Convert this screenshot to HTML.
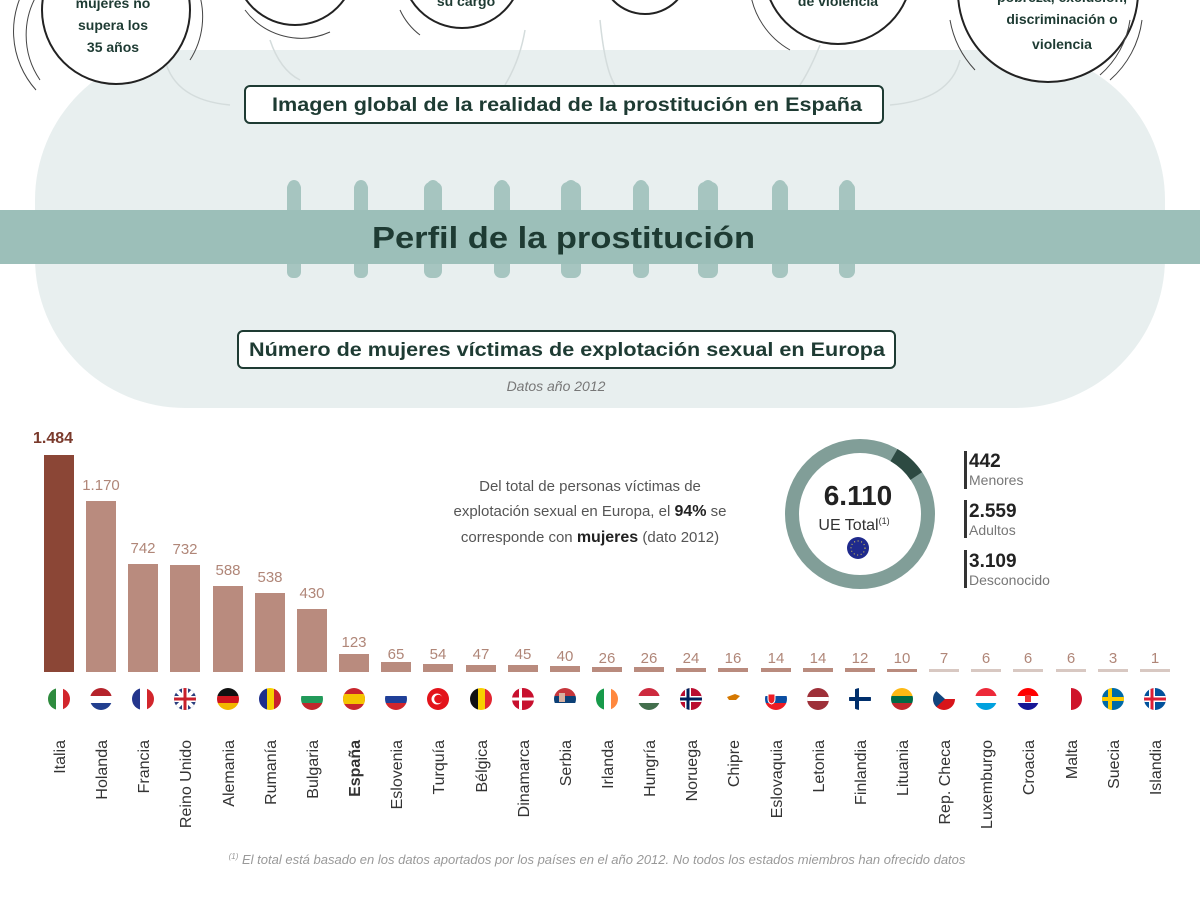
<!DOCTYPE html>
<html><head><meta charset="utf-8">
<style>
html,body{margin:0;padding:0;background:#fff;}
svg{display:block;font-family:"Liberation Sans",Arial,sans-serif;}
</style></head>
<body>
<svg width="1200" height="900" viewBox="0 0 1200 900" xmlns="http://www.w3.org/2000/svg">
<defs>
<clipPath id="fc"><circle cx="0" cy="0" r="11"/></clipPath>
</defs>
<rect x="35" y="50" width="1130" height="358" rx="150" fill="#e8efef"/>
<g fill="none" stroke="#d4dcdc" stroke-width="1.5">
<path d="M165 60 Q175 100 230 105"/>
<path d="M270 40 Q280 70 300 80"/>
<path d="M525 30 Q520 60 505 85"/>
<path d="M600 20 Q605 70 615 85"/>
<path d="M820 45 Q810 70 800 85"/>
<path d="M960 60 Q950 100 890 105"/>
</g>
<g fill="#fff" stroke="#222" stroke-width="2">
<circle cx="116" cy="10" r="74"/>
<circle cx="295" cy="-35" r="60"/>
<circle cx="462" cy="-32" r="60"/>
<circle cx="645" cy="-30" r="44"/>
<circle cx="838" cy="-30" r="74"/>
<circle cx="1048" cy="-8" r="90"/>
</g>
<g fill="none" stroke="#444" stroke-width="1">
<path d="M40 -10 A80 80 0 0 0 40 80"/>
<path d="M30 -20 A88 88 0 0 0 36 90"/>
<path d="M198 -10 A80 80 0 0 1 190 60"/>
<path d="M245 10 A70 70 0 0 0 330 32"/>
<path d="M400 10 A66 66 0 0 0 420 35"/>
<path d="M750 -10 A80 80 0 0 0 790 50"/>
<path d="M950 20 A98 98 0 0 0 975 70"/>
<path d="M1142 20 A96 96 0 0 1 1110 80"/>
<path d="M1130 20 A90 90 0 0 1 1100 75"/>
</g>
<g font-size="14" font-weight="bold" fill="#1e3b33" text-anchor="middle">
<text x="113" y="8">mujeres no</text>
<text x="113" y="30">supera los</text>
<text x="113" y="52">35 años</text>
<text x="466" y="6">su cargo</text>
<text x="838" y="6">de violencia</text>
<text x="1062" y="2">pobreza, exclusión,</text>
<text x="1062" y="24">discriminación o</text>
<text x="1062" y="49">violencia</text>
</g>
<rect x="245" y="86" width="638" height="37" rx="5" fill="#fff" stroke="#1e3b33" stroke-width="2"/>
<text x="272" y="111" font-size="19" font-weight="bold" fill="#1e3b33" textLength="590" lengthAdjust="spacingAndGlyphs">Imagen global de la realidad de la prostitución en España</text>
<g fill="#a6c5c0">
<rect x="287" y="182" width="14" height="96" rx="6"/><circle cx="294" cy="186" r="6"/>
<rect x="354" y="182" width="14" height="96" rx="6"/><circle cx="361" cy="186" r="6"/>
<rect x="424" y="182" width="18" height="96" rx="7"/><circle cx="433" cy="186" r="6"/>
<rect x="494" y="182" width="16" height="96" rx="7"/><circle cx="502" cy="186" r="6"/>
<rect x="561" y="182" width="20" height="96" rx="7"/><circle cx="571" cy="186" r="6"/>
<rect x="633" y="182" width="16" height="96" rx="7"/><circle cx="641" cy="186" r="6"/>
<rect x="698" y="182" width="20" height="96" rx="7"/><circle cx="708" cy="186" r="6"/>
<rect x="772" y="182" width="16" height="96" rx="7"/><circle cx="780" cy="186" r="6"/>
<rect x="839" y="182" width="16" height="96" rx="7"/><circle cx="847" cy="186" r="6"/>
</g>
<rect x="0" y="210" width="1200" height="54" fill="#9cbfb9"/>
<text x="372" y="248" font-size="31" font-weight="bold" fill="#1e3b33" textLength="383" lengthAdjust="spacingAndGlyphs">Perfil de la prostitución</text>
<rect x="238" y="331" width="657" height="37" rx="5" fill="#fff" stroke="#1e3b33" stroke-width="2"/>
<text x="249" y="356" font-size="19" font-weight="bold" fill="#1e3b33" textLength="636" lengthAdjust="spacingAndGlyphs">Número de mujeres víctimas de explotación sexual en Europa</text>
<text x="556" y="391" font-size="14" font-style="italic" fill="#777" text-anchor="middle">Datos año 2012</text>

<g font-size="15" fill="#555" text-anchor="middle">
<text x="590" y="491">Del total de personas víctimas de</text>
<text x="590" y="516">explotación sexual en Europa, el <tspan font-weight="bold" fill="#222" font-size="16">94%</tspan> se</text>
<text x="590" y="542">corresponde con <tspan font-weight="bold" fill="#222" font-size="16">mujeres</tspan> (dato 2012)</text>
</g>
<circle cx="860" cy="514" r="68" fill="none" stroke="#819e98" stroke-width="14"/>
<path d="M 894 455.1 A68 68 0 0 1 916.3 476" fill="none" stroke="#2d4a42" stroke-width="14"/>
<text x="858" y="505" font-size="28" font-weight="bold" fill="#222" text-anchor="middle">6.110</text>
<text x="854" y="530" font-size="16" fill="#333" text-anchor="middle">UE Total<tspan font-size="9" dy="-6">(1)</tspan></text>
<circle cx="858" cy="548" r="11" fill="#1f2a8c"/>
<circle cx="858" cy="548" r="7" fill="none" stroke="#e8d44d" stroke-width="1" stroke-dasharray="1 2.6"/>
<g fill="#333">
<rect x="964" y="451" width="3" height="38"/>
<rect x="964" y="500" width="3" height="38"/>
<rect x="964" y="550" width="3" height="38"/>
</g>
<g font-weight="bold" font-size="19" fill="#222">
<text x="969" y="467">442</text>
<text x="969" y="517">2.559</text>
<text x="969" y="567">3.109</text>
</g>
<g font-size="14" fill="#777">
<text x="969" y="485">Menores</text>
<text x="969" y="535">Adultos</text>
<text x="969" y="585">Desconocido</text>
</g>

<g fill="#b98b7e">
<rect x="44" y="455" width="30" height="217" fill="#8b4636"/>
<rect x="86" y="501" width="30" height="171"/>
<rect x="128" y="564" width="30" height="108"/>
<rect x="170" y="565" width="30" height="107"/>
<rect x="213" y="586" width="30" height="86"/>
<rect x="255" y="593" width="30" height="79"/>
<rect x="297" y="609" width="30" height="63"/>
<rect x="339" y="654" width="30" height="18"/>
<rect x="381" y="662" width="30" height="10"/>
<rect x="423" y="664" width="30" height="8"/>
<rect x="466" y="665" width="30" height="7"/>
<rect x="508" y="665" width="30" height="7"/>
<rect x="550" y="666" width="30" height="6"/>
<rect x="592" y="667" width="30" height="5"/>
<rect x="634" y="667" width="30" height="5"/>
<rect x="676" y="668" width="30" height="4"/>
<rect x="718" y="668" width="30" height="4"/>
<rect x="761" y="668" width="30" height="4"/>
<rect x="803" y="668" width="30" height="4"/>
<rect x="845" y="668" width="30" height="4"/>
<rect x="887" y="669" width="30" height="3"/>
<rect x="929" y="669" width="30" height="3" fill="#d8c8c2"/>
<rect x="971" y="669" width="30" height="3" fill="#d8c8c2"/>
<rect x="1013" y="669" width="30" height="3" fill="#d8c8c2"/>
<rect x="1056" y="669" width="30" height="3" fill="#d8c8c2"/>
<rect x="1098" y="669" width="30" height="3" fill="#d8c8c2"/>
<rect x="1140" y="669" width="30" height="3" fill="#d8c8c2"/>
</g>
<text x="53" y="443" font-size="16" font-weight="bold" fill="#7a3a2c" text-anchor="middle">1.484</text>
<g font-size="15" fill="#b08678" text-anchor="middle">
<text x="101" y="490">1.170</text>
<text x="143" y="553">742</text>
<text x="185" y="554">732</text>
<text x="228" y="575">588</text>
<text x="270" y="582">538</text>
<text x="312" y="598">430</text>
<text x="354" y="647">123</text>
<text x="396" y="659">65</text>
<text x="438" y="659">54</text>
<text x="481" y="659">47</text>
<text x="523" y="659">45</text>
<text x="565" y="661">40</text>
<text x="607" y="663">26</text>
<text x="649" y="663">26</text>
<text x="691" y="663">24</text>
<text x="733" y="663">16</text>
<text x="776" y="663">14</text>
<text x="818" y="663">14</text>
<text x="860" y="663">12</text>
<text x="902" y="663">10</text>
<text x="944" y="663">7</text>
<text x="986" y="663">6</text>
<text x="1028" y="663">6</text>
<text x="1071" y="663">6</text>
<text x="1113" y="663">3</text>
<text x="1155" y="663">1</text>
</g>

<g transform="translate(59,699)" clip-path="url(#fc)"><rect x="-11" y="-11" width="8" height="22" fill="#2e8b3e"/><rect x="-3" y="-11" width="7" height="22" fill="#fff"/><rect x="4" y="-11" width="8" height="22" fill="#d2262c"/></g>
<g transform="translate(101,699)" clip-path="url(#fc)"><rect x="-11" y="-11" width="22" height="8" fill="#b5232b"/><rect x="-11" y="-3" width="22" height="7" fill="#fff"/><rect x="-11" y="4" width="22" height="8" fill="#223f8f"/></g>
<g transform="translate(143,699)" clip-path="url(#fc)"><rect x="-11" y="-11" width="8" height="22" fill="#23358c"/><rect x="-3" y="-11" width="7" height="22" fill="#fff"/><rect x="4" y="-11" width="8" height="22" fill="#d2262c"/></g>
<g transform="translate(185,699)" clip-path="url(#fc)"><rect x="-11" y="-11" width="22" height="22" fill="#283c7c"/><path d="M-11 -11 L11 11 M11 -11 L-11 11" stroke="#fff" stroke-width="4"/><rect x="-11" y="-3" width="22" height="6" fill="#fff"/><rect x="-3" y="-11" width="6" height="22" fill="#fff"/><rect x="-11" y="-1.5" width="22" height="3" fill="#c8202c"/><rect x="-1.5" y="-11" width="3" height="22" fill="#c8202c"/></g>
<g transform="translate(228,699)" clip-path="url(#fc)"><rect x="-11" y="-11" width="22" height="8" fill="#111"/><rect x="-11" y="-3" width="22" height="7" fill="#d0161f"/><rect x="-11" y="4" width="22" height="8" fill="#f2b800"/></g>
<g transform="translate(270,699)" clip-path="url(#fc)"><rect x="-11" y="-11" width="8" height="22" fill="#1e2f8c"/><rect x="-3" y="-11" width="7" height="22" fill="#f6d100"/><rect x="4" y="-11" width="8" height="22" fill="#c9202c"/></g>
<g transform="translate(312,699)" clip-path="url(#fc)"><rect x="-11" y="-11" width="22" height="8" fill="#fff"/><rect x="-11" y="-3" width="22" height="7" fill="#229a5a"/><rect x="-11" y="4" width="22" height="8" fill="#c1272d"/></g>
<g transform="translate(354,699)" clip-path="url(#fc)"><rect x="-11" y="-11" width="22" height="22" fill="#c8252c"/><rect x="-11" y="-5" width="22" height="10" fill="#f5c400"/></g>
<g transform="translate(396,699)" clip-path="url(#fc)"><rect x="-11" y="-11" width="22" height="8" fill="#fff"/><rect x="-11" y="-3" width="22" height="7" fill="#1f3f98"/><rect x="-11" y="4" width="22" height="8" fill="#d2262c"/></g>
<g transform="translate(438,699)" clip-path="url(#fc)"><rect x="-11" y="-11" width="22" height="22" fill="#e3141b"/><circle cx="-1" cy="0" r="5.5" fill="#fff"/><circle cx="0.5" cy="0" r="4.3" fill="#e3141b"/></g>
<g transform="translate(481,699)" clip-path="url(#fc)"><rect x="-11" y="-11" width="8" height="22" fill="#111"/><rect x="-3" y="-11" width="7" height="22" fill="#f7d000"/><rect x="4" y="-11" width="8" height="22" fill="#e22630"/></g>
<g transform="translate(523,699)" clip-path="url(#fc)"><rect x="-11" y="-11" width="22" height="22" fill="#c8102e"/><rect x="-11" y="-1.5" width="22" height="3" fill="#fff"/><rect x="-4" y="-11" width="3" height="22" fill="#fff"/></g>
<g transform="translate(565,699)" clip-path="url(#fc)"><rect x="-11" y="-11" width="22" height="8" fill="#c6363c"/><rect x="-11" y="-3" width="22" height="7" fill="#0c4076"/><rect x="-11" y="4" width="22" height="8" fill="#fff"/><rect x="-6" y="-6" width="6" height="9" fill="#d8b0a0"/></g>
<g transform="translate(607,699)" clip-path="url(#fc)"><rect x="-11" y="-11" width="8" height="22" fill="#179a4a"/><rect x="-3" y="-11" width="7" height="22" fill="#fff"/><rect x="4" y="-11" width="8" height="22" fill="#ff883e"/></g>
<g transform="translate(649,699)" clip-path="url(#fc)"><rect x="-11" y="-11" width="22" height="8" fill="#cd2a3e"/><rect x="-11" y="-3" width="22" height="7" fill="#fff"/><rect x="-11" y="4" width="22" height="8" fill="#436f4d"/></g>
<g transform="translate(691,699)" clip-path="url(#fc)"><rect x="-11" y="-11" width="22" height="22" fill="#ba0c2f"/><rect x="-11" y="-3" width="22" height="6" fill="#fff"/><rect x="-6" y="-11" width="6" height="22" fill="#fff"/><rect x="-11" y="-1.5" width="22" height="3" fill="#00205b"/><rect x="-4.5" y="-11" width="3" height="22" fill="#00205b"/></g>
<g transform="translate(733,699)" clip-path="url(#fc)"><rect x="-11" y="-11" width="22" height="22" fill="#fff"/><path d="M-6 -2 L2 -5 L7 -3 L3 1 L-4 1 Z" fill="#d57800"/></g>
<g transform="translate(776,699)" clip-path="url(#fc)"><rect x="-11" y="-11" width="22" height="8" fill="#fff"/><rect x="-11" y="-3" width="22" height="7" fill="#0b4ea2"/><rect x="-11" y="4" width="22" height="8" fill="#ee1c25"/><path d="M-8 -5 h7 v5 q0 4 -3.5 5 q-3.5 -1 -3.5 -5 z" fill="#ee1c25" stroke="#fff"/></g>
<g transform="translate(818,699)" clip-path="url(#fc)"><rect x="-11" y="-11" width="22" height="22" fill="#9e3039"/><rect x="-11" y="-2" width="22" height="4" fill="#fff"/></g>
<g transform="translate(860,699)" clip-path="url(#fc)"><rect x="-11" y="-11" width="22" height="22" fill="#fff"/><rect x="-11" y="-2" width="22" height="4" fill="#002f6c"/><rect x="-5" y="-11" width="4" height="22" fill="#002f6c"/></g>
<g transform="translate(902,699)" clip-path="url(#fc)"><rect x="-11" y="-11" width="22" height="8" fill="#fdb913"/><rect x="-11" y="-3" width="22" height="7" fill="#006a44"/><rect x="-11" y="4" width="22" height="8" fill="#c1272d"/></g>
<g transform="translate(944,699)" clip-path="url(#fc)"><rect x="-11" y="-11" width="22" height="11" fill="#fff"/><rect x="-11" y="0" width="22" height="11" fill="#d7141a"/><path d="M-11 -11 L1 0 L-11 11 Z" fill="#11457e"/></g>
<g transform="translate(986,699)" clip-path="url(#fc)"><rect x="-11" y="-11" width="22" height="8" fill="#ed2939"/><rect x="-11" y="-3" width="22" height="7" fill="#fff"/><rect x="-11" y="4" width="22" height="8" fill="#00a1de"/></g>
<g transform="translate(1028,699)" clip-path="url(#fc)"><rect x="-11" y="-11" width="22" height="8" fill="#ff0000"/><rect x="-11" y="-3" width="22" height="7" fill="#fff"/><rect x="-11" y="4" width="22" height="8" fill="#171796"/><rect x="-3" y="-4" width="6" height="7" fill="#e33"/></g>
<g transform="translate(1071,699)" clip-path="url(#fc)"><rect x="-11" y="-11" width="11" height="22" fill="#fff"/><rect x="0" y="-11" width="11" height="22" fill="#cf142b"/></g>
<g transform="translate(1113,699)" clip-path="url(#fc)"><rect x="-11" y="-11" width="22" height="22" fill="#006aa7"/><rect x="-11" y="-2" width="22" height="4" fill="#fecc00"/><rect x="-5" y="-11" width="4" height="22" fill="#fecc00"/></g>
<g transform="translate(1155,699)" clip-path="url(#fc)"><rect x="-11" y="-11" width="22" height="22" fill="#02529c"/><rect x="-11" y="-3" width="22" height="6" fill="#fff"/><rect x="-6" y="-11" width="6" height="22" fill="#fff"/><rect x="-11" y="-1.5" width="22" height="3" fill="#dc1e35"/><rect x="-4.5" y="-11" width="3" height="22" fill="#dc1e35"/></g>

<g font-size="16" fill="#333" text-anchor="end">
<text transform="translate(65,740) rotate(-90)">Italia</text>
<text transform="translate(107,740) rotate(-90)">Holanda</text>
<text transform="translate(149,740) rotate(-90)">Francia</text>
<text transform="translate(191,740) rotate(-90)">Reino Unido</text>
<text transform="translate(234,740) rotate(-90)">Alemania</text>
<text transform="translate(276,740) rotate(-90)">Rumanía</text>
<text transform="translate(318,740) rotate(-90)">Bulgaria</text>
<text transform="translate(360,740) rotate(-90)" font-weight="bold">España</text>
<text transform="translate(402,740) rotate(-90)">Eslovenia</text>
<text transform="translate(444,740) rotate(-90)">Turquía</text>
<text transform="translate(487,740) rotate(-90)">Bélgica</text>
<text transform="translate(529,740) rotate(-90)">Dinamarca</text>
<text transform="translate(571,740) rotate(-90)">Serbia</text>
<text transform="translate(613,740) rotate(-90)">Irlanda</text>
<text transform="translate(655,740) rotate(-90)">Hungría</text>
<text transform="translate(697,740) rotate(-90)">Noruega</text>
<text transform="translate(739,740) rotate(-90)">Chipre</text>
<text transform="translate(782,740) rotate(-90)">Eslovaquia</text>
<text transform="translate(824,740) rotate(-90)">Letonia</text>
<text transform="translate(866,740) rotate(-90)">Finlandia</text>
<text transform="translate(908,740) rotate(-90)">Lituania</text>
<text transform="translate(950,740) rotate(-90)">Rep. Checa</text>
<text transform="translate(992,740) rotate(-90)">Luxemburgo</text>
<text transform="translate(1034,740) rotate(-90)">Croacia</text>
<text transform="translate(1077,740) rotate(-90)">Malta</text>
<text transform="translate(1119,740) rotate(-90)">Suecia</text>
<text transform="translate(1161,740) rotate(-90)">Islandia</text>
</g>
<text x="597" y="864" font-size="13" font-style="italic" fill="#999" text-anchor="middle"><tspan font-size="8" dy="-5">(1)</tspan><tspan dy="5"> El total está basado en los datos aportados por los países en el año 2012. No todos los estados miembros han ofrecido datos</tspan></text>
</svg>
</body></html>
